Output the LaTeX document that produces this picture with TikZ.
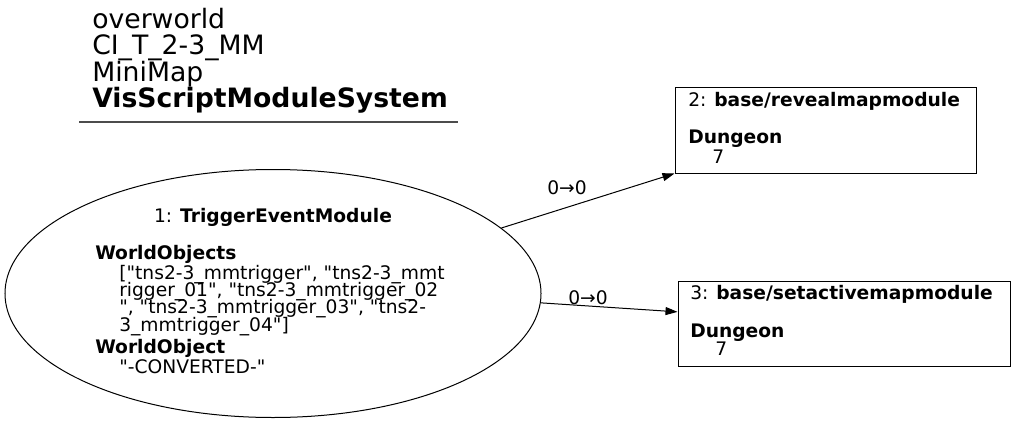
\documentclass[tikz,border=0pt]{standalone}
\usepackage{fontspec}
\newfontfamily\dejavu{DejaVu Sans}
\usetikzlibrary{shapes.geometric,arrows.meta}
\begin{document}
\begin{tikzpicture}[x=0.75pt,y=-0.75pt]
		\tikzset{modell/.style={ellipse, draw=black, line width=0.75pt, inner sep=0, minimum width=402pt, minimum height=186pt},
			modbox/.style={rectangle, draw=black, line width=0.75pt, inner sep=0, minimum height=63.75pt},
			txt/.style={inner sep=0, anchor=base west, font=\dejavu\fontsize{14}{14}\selectfont},
			hdr/.style={inner sep=0, anchor=base west, font=\dejavu\fontsize{20}{20}\selectfont},
			elabel/.style={inner sep=0, font=\dejavu\fontsize{14}{14}\selectfont},
			edge/.style={-{Triangle[length=9pt,width=6pt]}, line width=0.75pt}}
		\useasboundingbox (0,0) rectangle (1016,424);

		% header
		\node[hdr] at (92, 29) (h1) {overworld};
		\node[hdr] at (92, 55) (h2) {CI\_T\_2-3\_MM};
		\node[hdr] at (92, 82) (h3) {MiniMap};
		\node[hdr] at (92, 108) (h4) {\textbf{VisScriptModuleSystem}};
		\draw[line width=1.5pt, black!70] (79, 122) -- (458, 122);

		% modules
		\node[modell] at (273, 293.5) (n1) {};
		\node[modbox, minimum width=225.75pt] at (825.5, 130.5) (n2) {};
		\node[modbox, minimum width=249pt] at (844, 323.5) (n3) {};

		\node[txt, anchor=base] at (273, 222) (n1t) {1: \textbf{TriggerEventModule}};
		\node[txt] at (95, 259) (n1a) {\textbf{WorldObjects}};
		\node[txt] at (119, 279) (n1b) {["tns2-3\_mmtrigger", "tns2-3\_mmt};
		\node[txt] at (119, 296) (n1c) {rigger\_01", "tns2-3\_mmtrigger\_02};
		\node[txt] at (119, 313) (n1d) {", "tns2-3\_mmtrigger\_03", "tns2-};
		\node[txt] at (119, 331) (n1e) {3\_mmtrigger\_04"]};
		\node[txt] at (95, 353) (n1f) {\textbf{WorldObject}};
		\node[txt] at (119, 373) (n1g) {"-CONVERTED-"};

		\node[txt] at (688, 107) (n2t) {2: \textbf{base/revealmapmodule}};
		\node[txt] at (688, 144) (n2a) {\textbf{Dungeon}};
		\node[txt] at (712, 163) (n2b) {7};

		\node[txt] at (690, 299) (n3t) {3: \textbf{base/setactivemapmodule}};
		\node[txt] at (690, 337) (n3a) {\textbf{Dungeon}};
		\node[txt] at (715, 355) (n3b) {7};

		% edges
		\draw[edge] (n1.16.7) -- (n2.south west);
		\draw[edge] (n1.-2.9) -- (n3.176.7);
		\node[elabel] at (567, 188) (l12) {0→0};
		\node[elabel] at (588, 298) (l13) {0→0};
\end{tikzpicture}
\end{document}
